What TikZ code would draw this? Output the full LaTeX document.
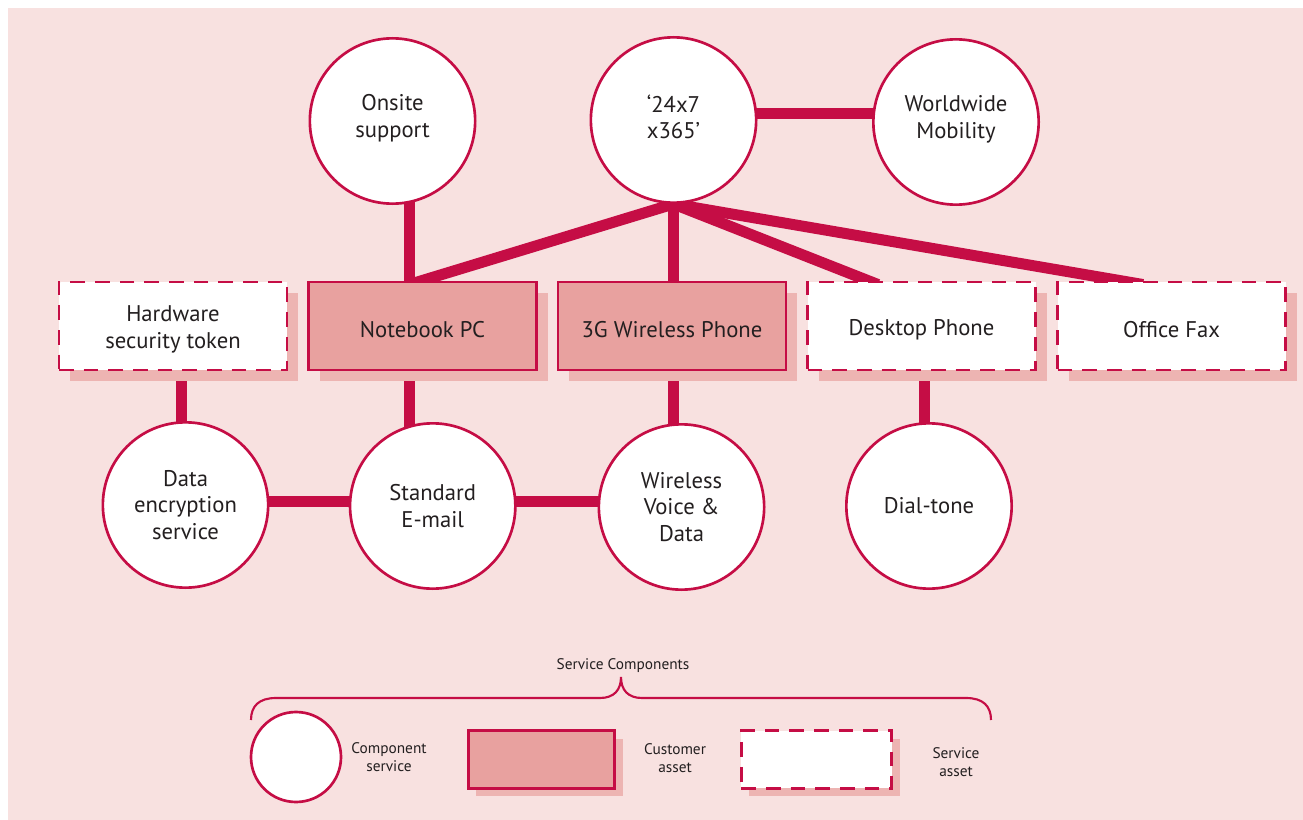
\documentclass[tikz,border=0pt]{standalone}
\usepackage{fontspec}
\setmainfont{PT Sans}
\usetikzlibrary{shadows,calc,backgrounds}
\definecolor{bgc}{HTML}{F8E1E0}
\definecolor{crim}{HTML}{C50D45}
\definecolor{custfill}{HTML}{E8A19F}
\definecolor{shd}{HTML}{EDB4B2}
\definecolor{txt}{HTML}{231F20}
\newcommand\mytxt[3]{\raisebox{#1}[\height][\depth]{\parbox{#2}{\centering #3}}}
\begin{document}
\begin{tikzpicture}[x=0.75pt,y=-0.75pt,
  comp/.style={circle,draw=crim,line width=2pt,fill=white,minimum size=124pt,inner sep=0pt,align=center,text=txt,font=\fontsize{17}{20}\selectfont},
  boxshadow/.style={drop shadow={shadow xshift=#1,shadow yshift=-#1,fill=shd,opacity=1}},
  boxbase/.style={rectangle,draw=crim,line width=2.2pt,minimum width=171pt,minimum height=66pt,inner sep=0pt,align=center,text=txt,font=\fontsize{17}{20}\selectfont},
  cust/.style={boxbase,fill=custfill},
  svc/.style={boxbase,fill=white,dash pattern=on 11pt off 7.5pt},
  conn/.style={draw=crim,line width=8.25pt},
  legtext/.style={align=center,text=txt,font=\fontsize{11.5}{14}\selectfont}
]
\useasboundingbox (0,0) rectangle (1303,820);

% top circles
\node[comp] (os) at (392.5,121) {\mytxt{2pt}{90pt}{Onsite\\support}};
\node[comp] (tf) at (673.5,120) {\mytxt{2.5pt}{90pt}{‘24x7\\x365’}};
\node[comp] (ww) at (956,122) {\mytxt{2pt}{90pt}{Worldwide\\Mobility}};

% boxes
\node[svc,boxshadow=8.25pt]  (hw) at (173,326) {\mytxt{-2.5pt}{160pt}{Hardware\\security token}};
\node[cust,boxshadow=8.25pt] (nb) at (422.5,326) {\mytxt{-3pt}{160pt}{Notebook PC}};
\node[cust,boxshadow=8.25pt] (g3) at (672,326) {\mytxt{-3pt}{160pt}{3G Wireless Phone}};
\node[svc,boxshadow=8.25pt]  (dp) at (921.5,326) {\mytxt{-3pt}{160pt}{Desktop Phone}};
\node[svc,boxshadow=8.25pt]  (fx) at (1171.5,326) {\mytxt{-3pt}{160pt}{Office Fax}};

% bottom circles
\node[comp] (de) at (185.5,505) {Data\\encryption\\service};
\node[comp] (se) at (432.7,506) {Standard\\E-mail};
\node[comp] (wv) at (681.5,507) {Wireless\\Voice \&\\Data};
\node[comp] (dt) at (929,506) {Dial-tone};

% legend
\node[comp,minimum size=67.5pt] (lc) at (296,757) {};
\node[legtext] (lct) at (389,757) {Component\\service};
\node[cust,minimum width=110pt,minimum height=43pt,boxshadow=6pt] (lca) at (541.5,759.5) {};
\node[legtext] (lcat) at (675,758) {Customer\\asset};
\node[svc,minimum width=113pt,minimum height=43pt,boxshadow=6pt] (lsa) at (816.5,759.5) {};
\node[legtext] (lsat) at (956,762) {Service\\asset};
\node[legtext] (sc) at (623,666) {Service Components};
\draw[crim,line width=1.6pt] (251,720) .. controls (251,706) and (259,698) .. (276,698) -- (600,698) .. controls (614,698) and (621,690) .. (621,677) .. controls (621,690) and (628,698) .. (642,698) -- (966,698) .. controls (983,698) and (991,706) .. (991,720);

\begin{scope}[on background layer]
\fill[bgc] (8,8) rectangle (1303,820);
\coordinate (nbT) at ($(nb.north west)+(102,4)$);
\draw[conn] (nbT) -- (nbT |- os.center);
\draw[conn] (nbT) -- (tf.south);
\coordinate (g3T) at ($(tf.center |- g3.north)+(0,4)$);
\draw[conn] (g3T) -- (tf.center);
\coordinate (dpT) at ($(dp.north west)+(72,4)$);
\draw[conn] (tf.south) -- (dpT);
\coordinate (fxT) at ($(fx.north west)+(87,4)$);
\draw[conn] (tf.south) -- (fxT);
\coordinate (tfR) at ($(tf.center)+(0,-6.5)$);
\draw[conn] (tfR) -- (tfR -| ww.center);
\coordinate (hwB) at ($(hw.south)+(8,-4)$);
\draw[conn] (hwB) -- (hwB |- de.center);
\coordinate (nbB) at ($(nb.south)+(-13,-4)$);
\draw[conn] (nbB) -- (nbB |- se.center);
\coordinate (g3B) at ($(g3.south)+(1.5,-4)$);
\draw[conn] (g3B) -- (g3B |- wv.center);
\coordinate (dpB) at ($(dp.south)+(3,-4)$);
\draw[conn] (dpB) -- (dpB |- dt.center);
\coordinate (deR) at ($(de.center)+(0,-4)$);
\draw[conn] (deR) -- (deR -| se.center);
\coordinate (seR) at ($(se.center)+(0,-5)$);
\draw[conn] (seR) -- (seR -| wv.center);
\end{scope}
\end{tikzpicture}
\end{document}
